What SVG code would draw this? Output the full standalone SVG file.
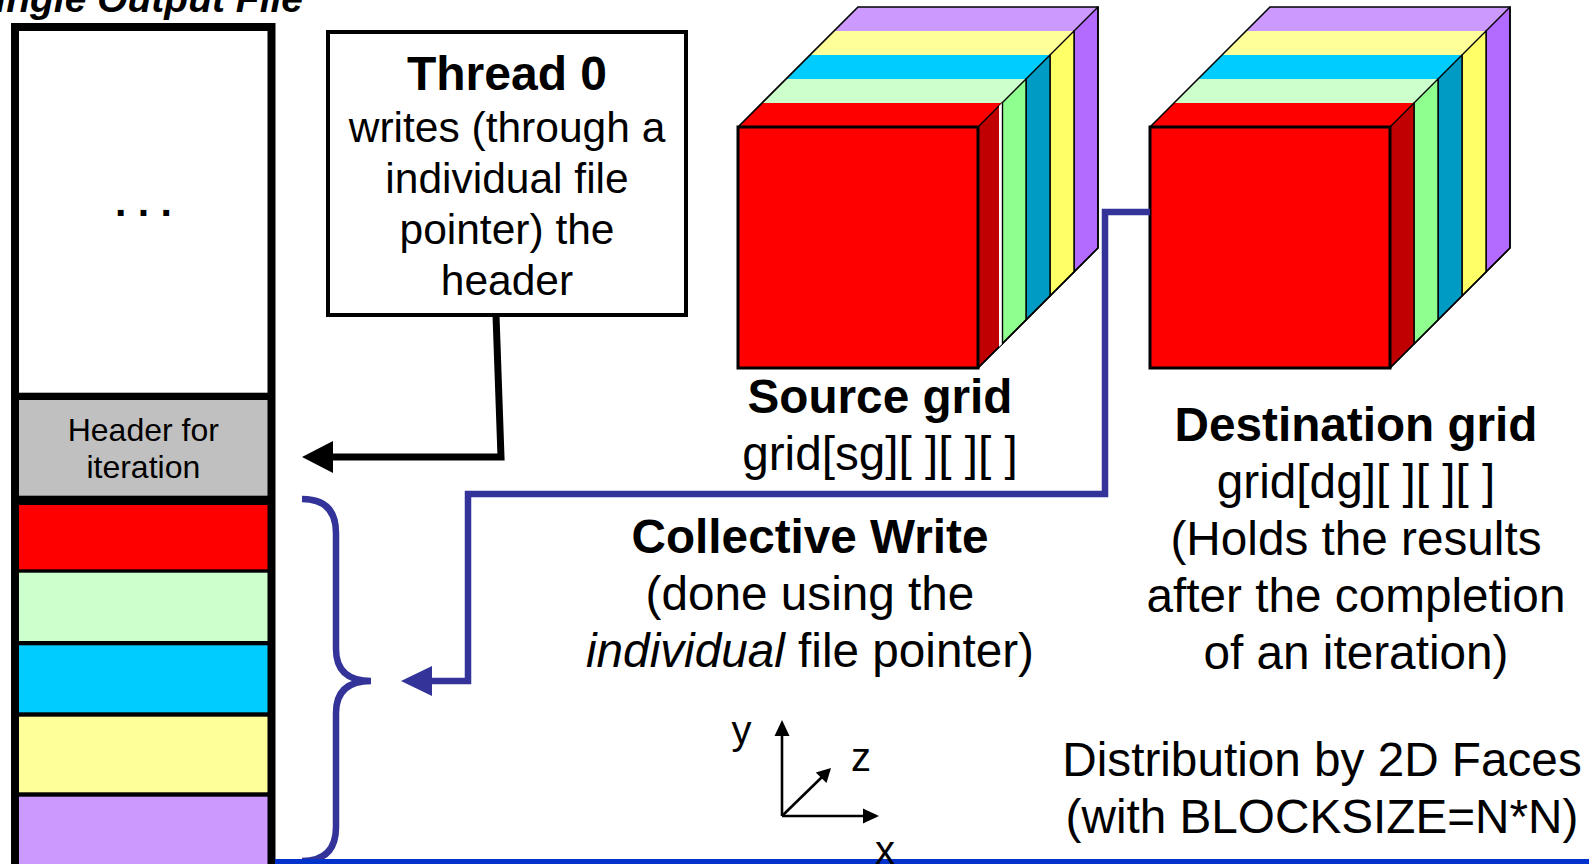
<svg xmlns="http://www.w3.org/2000/svg" width="1589" height="864" viewBox="0 0 1589 864">
  <style>
    text { font-family: "Liberation Sans", Arial, sans-serif; fill: #000; }
    .big { font-size: 47.7px; }
    .bold { font-weight: bold; }
    .mid { text-anchor: middle; }
    .box-text { font-size: 42.5px; }
    .axis-label { font-size: 40px; }
    .face-side { stroke: #000; stroke-width: 1.4; stroke-linejoin: round; }
    .edge { fill: none; stroke: #000; stroke-width: 1.6; }
    .blue-line { fill: none; stroke: #333399; stroke-width: 6.5; }
    .black-line { fill: none; stroke: #000; stroke-width: 7; }
  </style>
  <defs>
    <!-- one stack of five slabs, front slab origin at (0,0), 240 x 241, depth 24 per slab -->
    <g id="slab-stack">
      <!-- purple (back) -->
      <polygon points="96,-96 336,-96 360,-120 120,-120" fill="#CC99FF"/>
      <polygon class="face-side" points="336,-96 360,-120 360,121 336,145" fill="#B36BFF"/>
      <!-- yellow -->
      <polygon points="72,-72 312,-72 336,-96 96,-96" fill="#FFFF99"/>
      <polygon class="face-side" points="312,-72 336,-96 336,145 312,169" fill="#FFFF66"/>
      <!-- cyan -->
      <polygon points="48,-48 288,-48 312,-72 72,-72" fill="#00CCFF"/>
      <polygon class="face-side" points="288,-48 312,-72 312,169 288,193" fill="#009BC4"/>
      <!-- light green -->
      <polygon points="24,-24 264,-24 288,-48 48,-48" fill="#CCFFCC"/>
      <polygon class="face-side" points="264,-24 288,-48 288,193 264,217" fill="#8FFF8F"/>
      <!-- red (front) -->
      <polygon points="0,0 240,0 264,-24 24,-24" fill="#FF0000"/>
      <polygon class="face-side" points="240,0 264,-24 264,217 240,241" fill="#C00000"/>
      <!-- outer edges -->
      <polyline class="edge" points="0,0 120,-120 360,-120 360,121 240,241"/>
      <rect x="0" y="0" width="240" height="241" fill="#FF0000" stroke="#000" stroke-width="3"/>
    </g>
  </defs>

  <rect width="1589" height="864" fill="#FFFFFF"/>

  <!-- file title, partly above the top edge -->
  <text id="title" x="303" y="12" text-anchor="end" font-size="39" font-weight="bold" font-style="italic">Single Output File</text>

  <!-- output file column -->
  <g id="output-file">
    <rect x="11" y="23" width="264.5" height="850" fill="#000"/>
    <rect x="19" y="31" width="248.5" height="361.7" fill="#FFFFFF"/>
    <rect x="19" y="400" width="248.5" height="95.7" fill="#C0C0C0"/>
    <rect x="19" y="505" width="248.5" height="64.3" fill="#FF0000"/>
    <rect x="19" y="572.7" width="248.5" height="68.3" fill="#CCFFCC"/>
    <rect x="19" y="645.3" width="248.5" height="67" fill="#00CCFF"/>
    <rect x="19" y="716.7" width="248.5" height="75.6" fill="#FFFF99"/>
    <rect x="19" y="796.7" width="248.5" height="80" fill="#CC99FF"/>
    <text x="143.5" y="216" class="mid bold" font-size="41">. . .</text>
    <text class="mid" font-size="32"><tspan x="143.3" y="441">Header for</tspan><tspan x="143.3" y="478">iteration</tspan></text>
  </g>

  <!-- thread 0 note -->
  <g id="thread0">
    <rect x="328" y="32" width="358" height="283" fill="#FFFFFF" stroke="#000" stroke-width="4"/>
    <text class="mid bold" x="507" y="90" font-size="48">Thread 0</text>
    <text class="mid box-text"><tspan x="507" y="142">writes (through a</tspan><tspan x="507" y="193">individual file</tspan><tspan x="507" y="244">pointer) the</tspan><tspan x="507" y="295">header</tspan></text>
  </g>

  <!-- source grid -->
  <g id="source-grid">
    <use href="#slab-stack" x="738" y="127"/>
    <!-- small gap between the red and green slab sides -->
    <polygon points="999,106 1002,103 1002,344 999,347" fill="#FFFFFF"/>
    <line x1="1002.5" y1="103" x2="1002.5" y2="344" stroke="#000" stroke-width="1.4"/>
    <text class="mid bold big" x="880" y="413">Source grid</text>
    <text class="mid big" x="880" y="470">grid[sg][ ][ ][ ]</text>
  </g>

  <!-- destination grid -->
  <g id="destination-grid">
    <use href="#slab-stack" x="1150" y="127"/>
    <text class="mid big"><tspan x="1356" y="441" font-weight="bold">Destination grid</tspan><tspan x="1356" y="498">grid[dg][ ][ ][ ]</tspan><tspan x="1356" y="555">(Holds the results</tspan><tspan x="1356" y="612">after the completion</tspan><tspan x="1356" y="669">of an iteration)</tspan></text>
  </g>

  <!-- collective write label -->
  <g id="collective-write">
    <text class="mid big"><tspan x="810" y="553" font-weight="bold">Collective Write</tspan><tspan x="810" y="610">(done using the</tspan><tspan x="810" y="667"><tspan font-style="italic">individual</tspan> file pointer)</tspan></text>
  </g>

  <!-- distribution note -->
  <g id="distribution">
    <text class="mid big"><tspan x="1322" y="776">Distribution by 2D Faces</tspan><tspan x="1322" y="833">(with BLOCKSIZE=N*N)</tspan></text>
  </g>

  <!-- connectors -->
  <g id="connectors">
    <!-- header write from thread 0 -->
    <polyline class="black-line" points="496,315 501,457 333,457" stroke-linejoin="miter"/>
    <polygon points="302,457 333,441 333,473" fill="#000"/>
    <!-- collective write from destination grid -->
    <polyline class="blue-line" points="1150,212 1105,212 1105,494 468,494 468,681 432,681" stroke-linejoin="miter"/>
    <polygon points="401,681 432,666 432,696" fill="#333399"/>
    <!-- brace over the data blocks -->
    <path class="blue-line" d="M302,499 Q336,499 336,533 L336,649 Q336,681 371,681 Q336,681 336,713 L336,827 Q336,861 302,861"/>
    <!-- bottom rule -->
    <rect x="275" y="859" width="1314" height="6" fill="#0033CC"/>
  </g>

  <!-- axes -->
  <g id="axes">
    <line x1="782" y1="816" x2="782" y2="734" stroke="#000" stroke-width="2.6"/>
    <polygon points="782,720 774.5,736 789.5,736" fill="#000"/>
    <line x1="782" y1="816" x2="866" y2="816" stroke="#000" stroke-width="2.6"/>
    <polygon points="879,816 863,808.5 863,823.5" fill="#000"/>
    <line x1="782" y1="816" x2="822" y2="777" stroke="#000" stroke-width="2.6"/>
    <polygon points="831,768 826.5,783 815.8,772.5" fill="#000"/>
    <text class="mid axis-label" x="741.5" y="744">y</text>
    <text class="mid axis-label" x="861" y="771">z</text>
    <text class="mid axis-label" x="885" y="864">x</text>
  </g>
</svg>
